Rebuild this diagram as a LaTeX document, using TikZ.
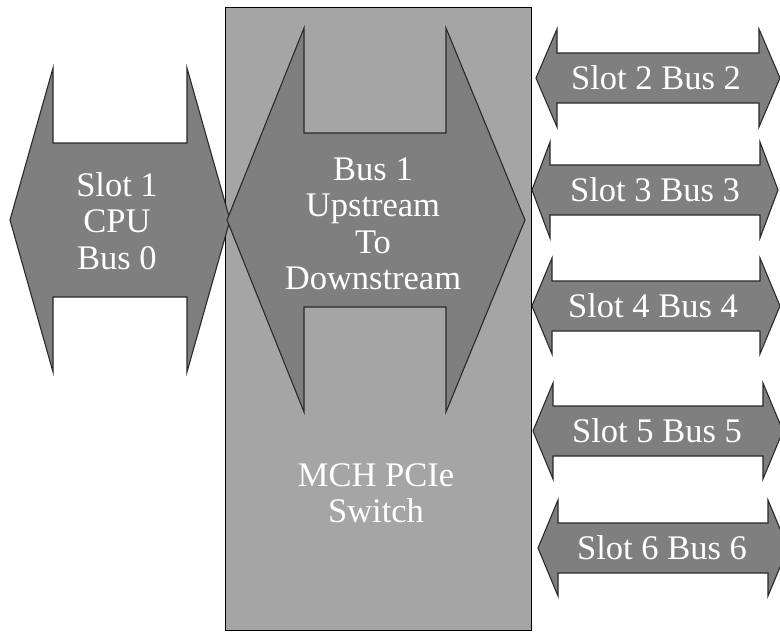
\documentclass[tikz,border=0pt]{standalone}
\usepackage{fontspec}
\setmainfont{Liberation Serif}
\definecolor{boxgray}{HTML}{A5A5A5}
\definecolor{arrgray}{HTML}{7F7F7F}
\definecolor{edgegray}{HTML}{2A2A2A}
\newcommand{\dbar}[7]{%
  \draw[arr] (#1,#5) -- (#2,#5-#6) -- (#2,#5-#7) -- (#3,#5-#7) -- (#3,#5-#6) -- (#4,#5)
    -- (#3,#5+#6) -- (#3,#5+#7) -- (#2,#5+#7) -- (#2,#5+#6) -- cycle;}
\begin{document}
\begin{tikzpicture}[x=1pt,y=-1pt,
  arr/.style={fill=arrgray,draw=edgegray,line width=1.1pt,line join=miter},
  switchbox/.style={fill=boxgray,draw=black,line width=1pt},
  lbl/.style={text=white,font=\fontsize{34.5}{36.5}\selectfont,align=center,inner sep=0pt}]
\useasboundingbox (0,0) rectangle (780,632);
\clip (0,0) rectangle (780,632);
\draw[switchbox] (225,7) rectangle (531,630);
\dbar{10}{53}{187}{230}{220}{152}{77}
\dbar{227}{304}{446}{525}{220}{192}{87}
\dbar{536}{557}{759}{780}{78}{49}{25}
\dbar{532}{550}{760}{778}{190}{48}{25}
\dbar{532}{552}{760}{780}{306}{48}{25}
\dbar{533}{553}{763}{783}{431}{48}{25}
\dbar{538}{558}{768}{788}{548}{48}{25}
\node[lbl] (cpu) at (117,221) {Slot 1\\CPU\\Bus 0};
\node[lbl] (bus1) at (373,224) {Bus 1\\Upstream\\To\\Downstream};
\node[lbl] (mch) at (376,493) {MCH PCIe\\Switch};
\node[lbl] (s2) at (656,78) {Slot 2 Bus 2};
\node[lbl] (s3) at (655,190) {Slot 3 Bus 3};
\node[lbl] (s4) at (653,306) {Slot 4 Bus 4};
\node[lbl] (s5) at (657,431) {Slot 5 Bus 5};
\node[lbl] (s6) at (662,548) {Slot 6 Bus 6};
\end{tikzpicture}
\end{document}
